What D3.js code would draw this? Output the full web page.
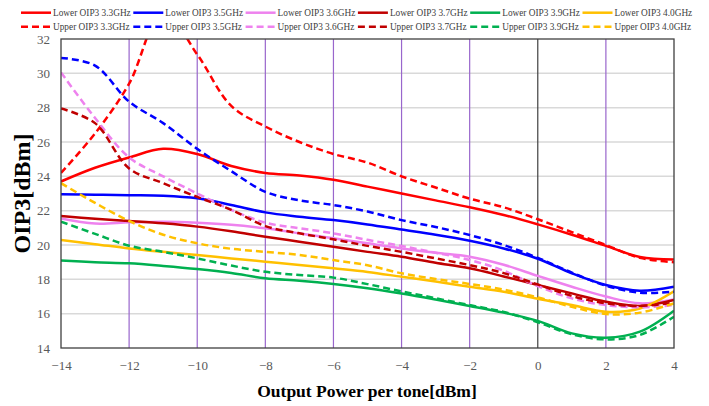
<!DOCTYPE html>
<html>
<head>
<meta charset="utf-8">
<script src="https://cdn.jsdelivr.net/npm/d3@7"></script>
<style>
  body { margin: 0; background: #fff; }
  #chart { width: 709px; height: 406px; }
  text { font-family: "Liberation Serif", "Times New Roman", serif; }
</style>
</head>
<body>
<div id="chart"></div>
<script>
// Output power per tone [dBm]
const xValues = [-14, -13, -12, -11, -10, -9, -8, -7, -6, -5, -4, -3, -2, -1, 0, 1, 2, 3, 4];

// OIP3 [dBm] per frequency, lower / upper tone
const lower33 = [23.7, 24.5, 25.1, 25.6, 25.3, 24.6, 24.2, 24.05, 23.8, 23.4, 23.0, 22.6, 22.2, 21.75, 21.2, 20.6, 19.95, 19.3, 19.15];
const upper33 = [24.2, 26.5, 29.4, 33.6, 31.1, 28.1, 26.9, 26.0, 25.3, 24.8, 24.0, 23.35, 22.7, 22.2, 21.5, 20.75, 20.0, 19.25, 19.0];
const lower35 = [22.95, 22.93, 22.9, 22.87, 22.72, 22.33, 21.9, 21.65, 21.45, 21.2, 20.9, 20.6, 20.25, 19.8, 19.2, 18.35, 17.67, 17.34, 17.57];
const upper35 = [30.9, 30.45, 28.35, 27.1, 25.6, 24.3, 23.1, 22.6, 22.33, 21.95, 21.45, 21.05, 20.58, 20.0, 19.25, 18.39, 17.63, 17.22, 17.28];
const lower36 = [21.55, 21.25, 21.32, 21.36, 21.3, 21.18, 20.97, 20.68, 20.39, 20.1, 19.8, 19.55, 19.32, 18.85, 18.2, 17.57, 17.0, 16.6, 16.83];
const upper36 = [30.05, 27.4, 25.1, 24.0, 23.0, 22.05, 21.3, 20.98, 20.68, 20.3, 19.94, 19.55, 19.13, 18.5, 17.6, 16.89, 16.5, 16.37, 16.5];
const lower37 = [21.69, 21.53, 21.4, 21.26, 21.07, 20.8, 20.48, 20.19, 19.9, 19.6, 19.32, 18.97, 18.64, 18.17, 17.67, 17.18, 16.7, 16.45, 16.8];
const upper37 = [27.95, 27.1, 24.46, 23.6, 22.8, 22.05, 21.1, 20.68, 20.33, 19.95, 19.6, 19.22, 18.83, 18.36, 17.7, 17.03, 16.6, 16.45, 16.64];
const lower39 = [19.1, 19.0, 18.93, 18.78, 18.6, 18.37, 18.06, 17.92, 17.73, 17.48, 17.17, 16.82, 16.45, 16.06, 15.58, 14.85, 14.6, 14.95, 16.17];
const upper39 = [21.36, 20.65, 19.96, 19.6, 19.22, 18.8, 18.44, 18.25, 18.1, 17.72, 17.3, 16.9, 16.5, 16.1, 15.5, 14.8, 14.5, 14.76, 15.82];
const lower40 = [20.29, 20.05, 19.8, 19.6, 19.42, 19.22, 19.03, 18.84, 18.64, 18.43, 18.15, 17.87, 17.57, 17.28, 16.87, 16.5, 16.11, 16.3, 17.3];
const upper40 = [23.6, 22.45, 21.4, 20.6, 20.1, 19.78, 19.6, 19.42, 19.12, 18.82, 18.35, 18.02, 17.73, 17.4, 16.95, 16.4, 15.98, 16.06, 16.6];

const xTicks = [-14, -12, -10, -8, -6, -4, -2, 0, 2, 4];
const yTicks = [14, 16, 18, 20, 22, 24, 26, 28, 30, 32];

const series = [
    { name: 'Lower OIP3 3.3GHz', values: lower33, color: '#ff0000', dashed: false },
    { name: 'Lower OIP3 3.5GHz', values: lower35, color: '#0000ff', dashed: false },
    { name: 'Lower OIP3 3.6GHz', values: lower36, color: '#ee82ee', dashed: false },
    { name: 'Lower OIP3 3.7GHz', values: lower37, color: '#c00000', dashed: false },
    { name: 'Lower OIP3 3.9GHz', values: lower39, color: '#00b050', dashed: false },
    { name: 'Lower OIP3 4.0GHz', values: lower40, color: '#ffc000', dashed: false },
    { name: 'Upper OIP3 3.3GHz', values: upper33, color: '#ff0000', dashed: true },
    { name: 'Upper OIP3 3.5GHz', values: upper35, color: '#0000ff', dashed: true },
    { name: 'Upper OIP3 3.6GHz', values: upper36, color: '#ee82ee', dashed: true },
    { name: 'Upper OIP3 3.7GHz', values: upper37, color: '#c00000', dashed: true },
    { name: 'Upper OIP3 3.9GHz', values: upper39, color: '#00b050', dashed: true },
    { name: 'Upper OIP3 4.0GHz', values: upper40, color: '#ffc000', dashed: true }
];

const serif = '"Liberation Serif", "Times New Roman", serif';
const margin = { top: 39, right: 35, bottom: 58, left: 61 };
const width = 709 - margin.left - margin.right;
const height = 406 - margin.top - margin.bottom;

const svg = d3.select('#chart').append('svg')
    .attr('width', 709)
    .attr('height', 406);

const g = svg.append('g')
    .attr('transform', `translate(${margin.left},${margin.top})`);

const xScale = d3.scaleLinear().domain([-14, 4]).range([0, width]);
const yScale = d3.scaleLinear().domain([14, 32]).range([height, 0]);

// griglia orizzontale
g.append('g')
    .selectAll('line')
    .data(yTicks.filter(d => d > 14 && d < 32))
    .enter().append('line')
    .attr('x1', 0)
    .attr('x2', width)
    .attr('y1', d => yScale(d))
    .attr('y2', d => yScale(d))
    .attr('stroke', '#d9d9d9')
    .attr('stroke-width', 1.5);

// linee verticali
g.append('g')
    .selectAll('line')
    .data(xTicks.filter(d => d > -14 && d < 4))
    .enter().append('line')
    .attr('x1', d => xScale(d))
    .attr('x2', d => xScale(d))
    .attr('y1', 0)
    .attr('y2', height)
    .attr('stroke', d => d === 0 ? '#404040' : '#9966cc')
    .attr('stroke-width', 1.2);

// clip
svg.append('defs').append('clipPath')
    .attr('id', 'plot-clip')
    .append('rect')
    .attr('width', width)
    .attr('height', height);

const line = d3.line()
    .x((d, i) => xScale(xValues[i]))
    .y(d => yScale(d))
    .curve(d3.curveCatmullRom.alpha(0.5));

const lines = g.append('g').attr('clip-path', 'url(#plot-clip)');
series.forEach(s => {
    lines.append('path')
        .datum(s.values)
        .attr('fill', 'none')
        .attr('stroke', s.color)
        .attr('stroke-width', 2.5)
        .attr('stroke-dasharray', s.dashed ? '7,4' : null)
        .attr('d', line);
});

// bordo
g.append('rect')
    .attr('width', width)
    .attr('height', height)
    .attr('fill', 'none')
    .attr('stroke', '#404040')
    .attr('stroke-width', 1.3);

// assi
const xAxis = g.append('g')
    .attr('transform', `translate(0,${height})`)
    .call(d3.axisBottom(xScale).tickValues(xTicks).tickSize(0).tickPadding(13));
const yAxis = g.append('g')
    .call(d3.axisLeft(yScale).tickValues(yTicks).tickSize(0).tickPadding(11));

[xAxis, yAxis].forEach(a => {
    a.attr('font-family', serif);
    a.select('.domain').remove();
    a.selectAll('text')
        .style('font-family', serif)
        .style('font-size', '13px')
        .style('fill', '#595959');
});

svg.append('text')
    .attr('transform', `translate(30,${margin.top + height / 2}) rotate(-90)`)
    .style('text-anchor', 'middle')
    .style('font-size', '24px')
    .style('font-weight', 'bold')
    .style('fill', '#000')
    .text('OIP3[dBm]');

svg.append('text')
    .attr('x', 367)
    .attr('y', 397)
    .style('text-anchor', 'middle')
    .style('font-size', '17.5px')
    .style('font-weight', 'bold')
    .style('fill', '#000')
    .text('Output Power per tone[dBm]');

// legenda
const legend = svg.append('g').attr('class', 'legend');
series.forEach((s, i) => {
    const col = i % 6;
    const row = Math.floor(i / 6);
    const item = legend.append('g')
        .attr('transform', `translate(${21 + col * 112.3},${12.7 + row * 14})`);
    item.append('line')
        .attr('x1', 0)
        .attr('x2', 30)
        .attr('stroke', s.color)
        .attr('stroke-width', 2.5)
        .attr('stroke-dasharray', s.dashed ? '7,4' : null);
    item.append('text')
        .attr('x', 32)
        .attr('dy', '0.35em')
        .style('font-size', '9.3px')
        .style('fill', '#404040')
        .text(s.name);
});
</script>
</body>
</html>
